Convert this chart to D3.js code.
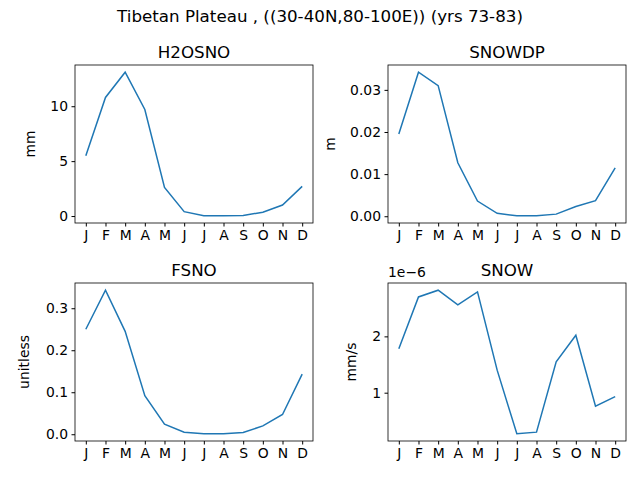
<!DOCTYPE html>
<html><head><meta charset="utf-8">
<script src="https://cdn.jsdelivr.net/npm/d3@7"></script>
<style>body{margin:0;background:#fff}text{font-family:"DejaVu Sans",sans-serif}</style>
</head><body><svg id="c" width="640" height="480"></svg>
<script>
const months = ['J','F','M','A','M','J','J','A','S','O','N','D'];
const h2osno = [5.5,10.8,13.1,9.7,2.6,0.4,0.02,0.02,0.05,0.35,1.0,2.7];
const snowdp = [0.0195,0.0342,0.031,0.0127,0.0036,0.0007,0.0001,0.0001,0.0005,0.0023,0.0037,0.0115];
const fsno = [0.25,0.343,0.245,0.092,0.024,0.005,0.001,0.001,0.004,0.02,0.047,0.143];
const snow = [1.78,2.7,2.82,2.56,2.79,1.4,0.27,0.3,1.55,2.02,0.76,0.93]; // x1e-6
const panels = [
  {title:'H2OSNO', unit:'mm', vals:h2osno, ticks:[0,5,10], fmt:d3.format('d'), x:75, y:65, yl:-40},
  {title:'SNOWDP', unit:'m', vals:snowdp, ticks:[0,0.01,0.02,0.03], fmt:d3.format('.2f'), x:388, y:65, yl:-53},
  {title:'FSNO', unit:'unitless', vals:fsno, ticks:[0,0.1,0.2,0.3], fmt:d3.format('.1f'), x:75, y:283, yl:-46},
  {title:'SNOW', unit:'mm/s', vals:snow, ticks:[1,2], fmt:d3.format('d'), x:388, y:283, yl:-32, offset:'1e\u22126'}
];
const W = 238, H = 158;
const svg = d3.select('#c');
svg.append('text').attr('x',320).attr('y',22).attr('text-anchor','middle').attr('font-size',16.7)
  .text('Tibetan Plateau , ((30-40N,80-100E)) (yrs 73-83)');
panels.forEach(p => {
  const g = svg.append('g').attr('transform',`translate(${p.x},${p.y})`);
  const x = d3.scaleLinear().domain([-0.55,11.55]).range([0,W]);
  const [lo,hi] = d3.extent(p.vals), pad = (hi-lo)*0.05;
  const y = d3.scaleLinear().domain([lo-pad,hi+pad]).range([H,0]);
  const xa = g.append('g').attr('transform',`translate(0,${H})`)
    .call(d3.axisBottom(x).tickValues(d3.range(12)).tickFormat(i=>months[i]).tickSize(3.5).tickPadding(3.5));
  const ya = g.append('g').call(d3.axisLeft(y).tickValues(p.ticks).tickFormat(p.fmt).tickSize(3.5).tickPadding(3.5));
  [xa,ya].forEach(a=>{a.selectAll('text').attr('font-size',13.9).attr('fill','#000');a.select('.domain').remove();a.selectAll('line').attr('stroke','#000');});
  g.append('rect').attr('width',W).attr('height',H).attr('fill','none').attr('stroke','#000').attr('stroke-width',0.8);
  g.append('path').datum(p.vals).attr('fill','none').attr('stroke','#1f77b4').attr('stroke-width',1.5)
    .attr('d',d3.line().x((d,i)=>x(i)).y(d=>y(d)));
  g.append('text').attr('x',W/2).attr('y',-7).attr('text-anchor','middle').attr('font-size',16.7).text(p.title);
  g.append('text').attr('transform',`translate(${p.yl},${H/2}) rotate(-90)`).attr('text-anchor','middle').attr('font-size',13.9).text(p.unit);
  if (p.offset) g.append('text').attr('x',0).attr('y',-6).attr('font-size',13.9).text(p.offset);
});
</script></body></html>
